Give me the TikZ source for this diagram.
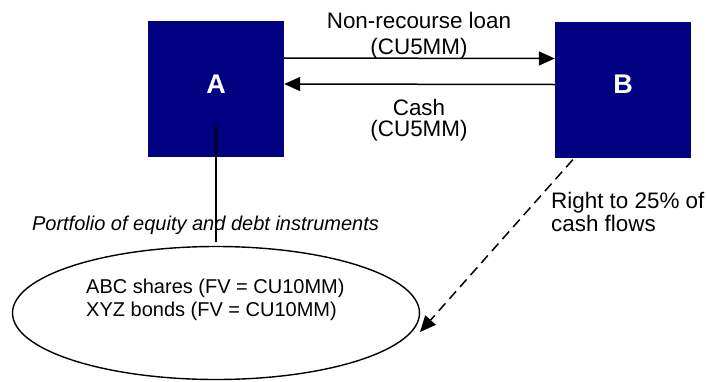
\documentclass[tikz,border=0pt]{standalone}
\usepackage{fontspec}
\setmainfont{Liberation Sans}
\usetikzlibrary{arrows.meta,shapes.geometric}
\definecolor{navyblue}{RGB}{0,0,128}
\begin{document}
\begin{tikzpicture}[x=1pt,y=-1pt,
  party/.style={fill=navyblue,draw=none,minimum width=136pt,minimum height=136pt,inner sep=0pt,
    text=white,font=\fontsize{27}{30}\selectfont\bfseries,text depth=10pt},
  lbl/.style={font=\fontsize{22.4}{25}\selectfont,inner sep=0pt,anchor=base},
  small/.style={font=\fontsize{20}{23}\selectfont,inner sep=0pt},
  conn/.style={line width=1.5pt,-{Triangle[length=16pt,width=14pt]}},
  ]
\useasboundingbox (0,0) rectangle (707,381);
\node[party] (A) at (216,89) {A};
\node[party] (B) at (623,89.5) {B};
\node[ellipse,draw,line width=1.4pt,minimum width=407pt,minimum height=133pt,inner sep=0pt] (E) at (216,313) {};
% labels
\node[lbl] (l1) at (419,28.3) {Non-recourse loan};
\node[lbl] (l2) at (419,54.7) {(CU5MM)};
\node[lbl] (l3) at (419,115) {Cash};
\node[lbl] (l4) at (419,136.5) {(CU5MM)};
\node[lbl,anchor=base west] (r1) at (551,208) {Right to 25\% of};
\node[lbl,anchor=base west] (r2) at (551,231) {cash flows};
\node[small,anchor=base,font=\fontsize{20}{23}\selectfont\itshape] (p) at (205.5,230) {Portfolio of equity and debt instruments};
\node[small,anchor=base west] (e1) at (86,293) {ABC shares (FV = CU10MM)};
\node[small,anchor=base west] (e2) at (86,316) {XYZ bonds (FV = CU10MM)};
% connectors
\draw[conn] ([yshift=31pt]A.east) -- ([yshift=31pt]B.west);
\draw[conn] ([yshift=5pt]B.west) -- ([yshift=5pt]A.east);
\draw[line width=1.5pt] ([yshift=-36pt]A.center) -- ([yshift=4pt]E.north);
\coordinate (tip) at (420,332);
\draw[conn,dash pattern=on 10pt off 6pt] ([xshift=18pt,yshift=-2pt]B.south west) -- (tip);
\end{tikzpicture}
\end{document}
